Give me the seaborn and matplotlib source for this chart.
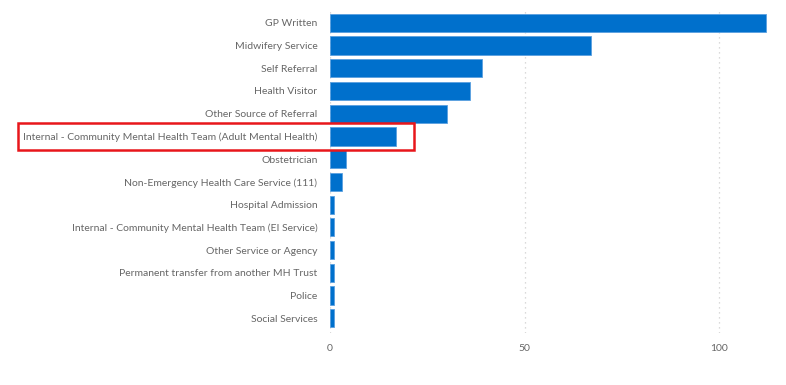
import matplotlib
matplotlib.use("Agg")
import matplotlib.pyplot as plt
import seaborn as sns
import pandas as pd
from matplotlib.patches import Rectangle

categories = [
    "GP Written",
    "Midwifery Service",
    "Self Referral",
    "Health Visitor",
    "Other Source of Referral",
    "Internal - Community Mental Health Team (Adult Mental Health)",
    "Obstetrician",
    "Non-Emergency Health Care Service (111)",
    "Hospital Admission",
    "Internal - Community Mental Health Team (EI Service)",
    "Other Service or Agency",
    "Permanent transfer from another MH Trust",
    "Police",
    "Social Services",
]
values = [112, 67, 39, 36, 30, 17, 4, 3, 1, 1, 1, 1, 1, 1]
x_ticks = [0, 50, 100]
highlight = "Internal - Community Mental Health Team (Adult Mental Health)"

df = pd.DataFrame({"source": categories, "count": values})

sns.set_theme(style="white")
plt.rcParams["font.family"] = ["Lato", "DejaVu Sans"]

fig = plt.figure(figsize=(7.86, 3.85), dpi=100)
ax = fig.add_axes([330 / 786, 1 - 333 / 385, (770 - 330) / 786, (333 - 8) / 385])

sns.barplot(data=df, x="count", y="source", color="#0070CC", width=0.8,
            saturation=1, ax=ax, edgecolor="#5aa0e0", linewidth=0.6, zorder=3)

ax.set_xlim(0, 113)
ax.set_ylim(len(categories) - 0.5 + 0.15, -0.5 - 0.15)
ax.set_xticks(x_ticks)
ax.set_xticklabels([str(t) for t in x_ticks])
ax.grid(axis="x", color="#cfcfcf", linestyle=(0, (1, 3)), linewidth=0.9, zorder=0)
for s in ax.spines.values():
    s.set_visible(False)
ax.set_xlabel("")
ax.set_ylabel("")
ax.tick_params(axis="y", length=0, pad=9, labelsize=7.45, labelcolor="#666666")
ax.tick_params(axis="x", length=0, pad=8, labelsize=7.45, labelcolor="#666666")

# highlight box around the chosen category
fig.canvas.draw()
renderer = fig.canvas.get_renderer()
idx = categories.index(highlight)
lab = ax.get_yticklabels()[idx]
lb = lab.get_window_extent(renderer)
bar = ax.patches[idx]
bb = bar.get_window_extent(renderer)
x0 = lb.x0 - 5
x1 = bb.x1 + 18
y0 = bb.y0 - 4
y1 = bb.y1 + 4
rect = Rectangle((x0, y0), x1 - x0, y1 - y0, transform=None, fill=False,
                 edgecolor="#e8161b", linewidth=1.8, zorder=10)
fig.add_artist(rect)

fig.savefig("out.png", dpi=100)
